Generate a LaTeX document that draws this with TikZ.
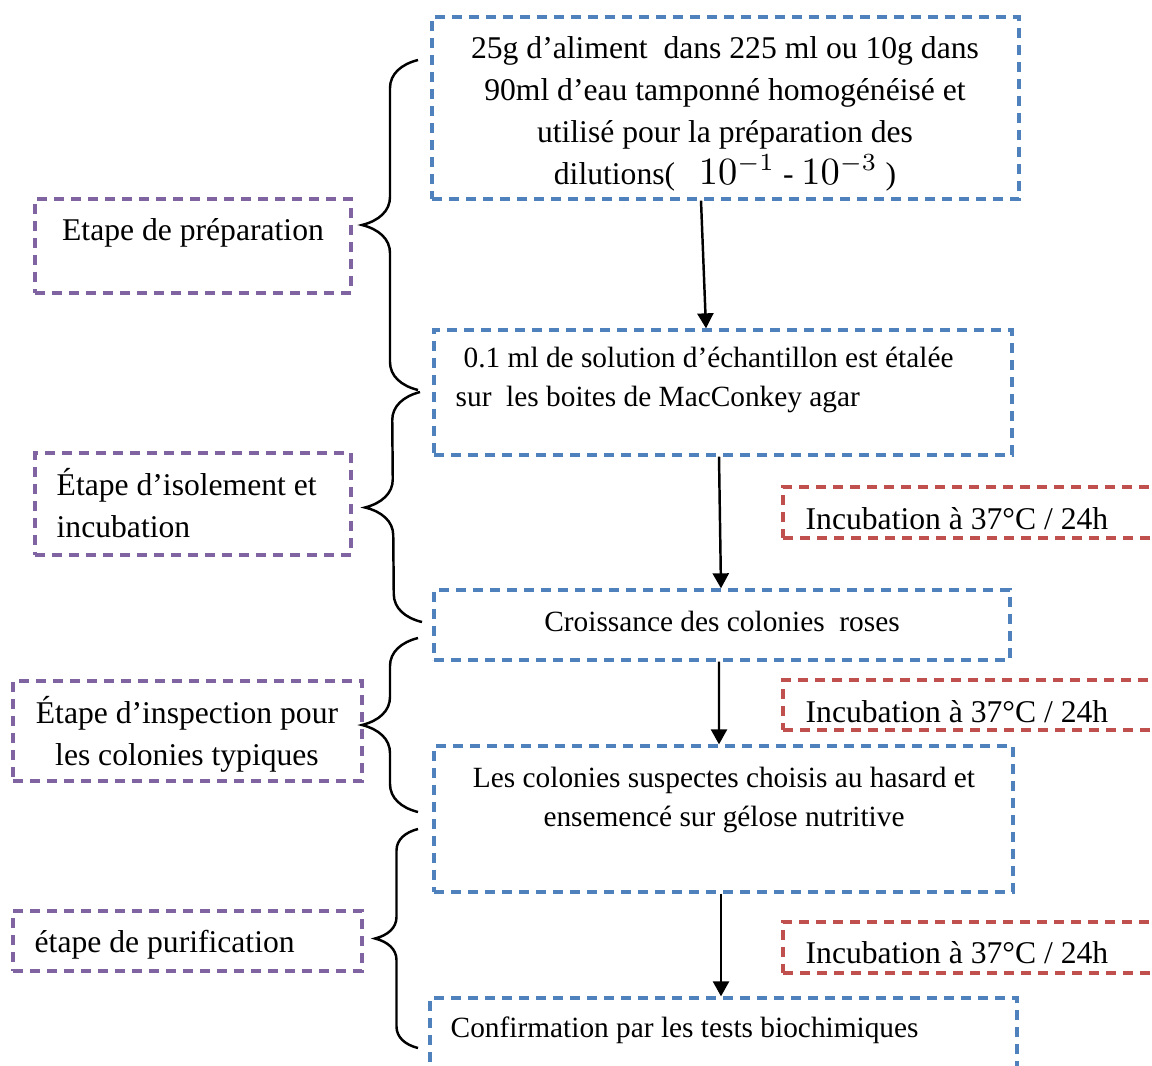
\documentclass[tikz,border=0pt]{standalone}
\usepackage{fontspec}
\setmainfont{Liberation Serif}
\usetikzlibrary{arrows.meta,decorations.pathreplacing}
\definecolor{boxblue}{RGB}{79,129,189}
\definecolor{incured}{RGB}{192,80,77}
\definecolor{phasepurple}{RGB}{128,100,162}
\tikzset{
  dashbox/.style={draw, rectangle, inner sep=0pt, line width=0.95pt, dash pattern=on 1mm off 0.7mm},
  stepbox/.style={dashbox, draw=boxblue},
  incubox/.style={dashbox, draw=incured},
  phasebox/.style={dashbox, draw=phasepurple},
  txt/.style={inner sep=0pt, font=\fontsize{9}{12}\selectfont},
  smalltxt/.style={inner sep=0pt, font=\fontsize{8.35}{11.1}\selectfont},
  flow/.style={-{Triangle[length=1.5mm,width=1.6mm]}, line width=0.7pt},
  curly/.style={decorate, decoration={brace, amplitude=0.28cm, transform={yscale=2}}, line width=0.7pt},
}
\begin{document}
\begin{tikzpicture}
\useasboundingbox (0,0) rectangle (11.52,-10.65);
% main column
\node[stepbox, minimum width=5.87cm, minimum height=1.82cm] (prep) at (7.255,-1.08) {};
\node[stepbox, minimum width=5.78cm, minimum height=1.25cm] (spread) at (7.23,-3.925) {};
\node[stepbox, minimum width=5.76cm, minimum height=0.70cm] (growth) at (7.22,-6.25) {};
\node[stepbox, minimum width=5.79cm, minimum height=1.46cm] (pick) at (7.235,-8.19) {};
\node[stepbox, minimum width=5.87cm, minimum height=1.32cm] (confirm) at (7.235,-10.64) {};
\node[txt, align=center] (prep-txt) at (7.25,-1.14) {25g d’aliment\ \ dans 225 ml ou 10g dans\\90ml d’eau tamponné homogénéisé et\\utilisé pour la préparation des\\dilutions(\ \ \ {\fontsize{10.5}{12}\selectfont$10^{-1}$} - {\fontsize{10.5}{12}\selectfont$10^{-3}$} )};
\node[smalltxt, align=left, anchor=west] (spread-txt) at (4.55,-3.80) {\hspace*{0.8mm}0.1 ml de solution d’échantillon est étalée\\sur\ \ les boites de MacConkey agar};
\node[smalltxt] (growth-txt) at (7.22,-6.21) {Croissance des colonies\ \ roses};
\node[smalltxt, align=center] (pick-txt) at (7.24,-8.00) {Les colonies suspectes choisis au hasard et\\ensemencé sur gélose nutritive};
\node[smalltxt, anchor=west] (confirm-txt) at (4.50,-10.30) {Confirmation par les tests biochimiques};
% incubation
\node[incubox, minimum width=3.87cm, minimum height=0.51cm] (inc1) at (9.765,-5.125) {};
\node[incubox, minimum width=3.87cm, minimum height=0.50cm] (inc2) at (9.765,-7.05) {};
\node[incubox, minimum width=3.87cm, minimum height=0.51cm] (inc3) at (9.765,-9.475) {};
\node[txt, anchor=west] (inc1-txt) at (8.05,-5.19) {Incubation à 37°C / 24h};
\node[txt, anchor=west] (inc2-txt) at (8.05,-7.12) {Incubation à 37°C / 24h};
\node[txt, anchor=west] (inc3-txt) at (8.05,-9.53) {Incubation à 37°C / 24h};
% stages
\node[phasebox, minimum width=3.16cm, minimum height=0.94cm] (prepstage) at (1.93,-2.46) {};
\node[phasebox, minimum width=3.16cm, minimum height=1.02cm] (isostage) at (1.93,-5.04) {};
\node[phasebox, minimum width=3.49cm, minimum height=1.00cm] (inspstage) at (1.875,-7.31) {};
\node[phasebox, minimum width=3.49cm, minimum height=0.60cm] (purstage) at (1.875,-9.41) {};
\node[txt] (prepstage-txt) at (1.93,-2.33) {Etape de préparation};
\node[txt, align=left, anchor=west] (isostage-txt) at (0.56,-5.03) {Étape d’isolement et\\incubation};
\node[txt, align=center] (inspstage-txt) at (1.87,-7.34) {Étape d’inspection pour\\les colonies typiques};
\node[txt, anchor=west] (purstage-txt) at (0.34,-9.45) {étape de purification};
% braces
\coordinate (b1t) at (4.18,-0.60);
\coordinate (b1b) at (4.18,-3.90);
\coordinate (b2t) at (4.20,-3.92);
\coordinate (b2b) at (4.22,-6.22);
\coordinate (b3t) at (4.18,-6.38);
\coordinate (b3b) at (4.18,-8.12);
\coordinate (b4t) at (4.18,-8.29);
\coordinate (b4b) at (4.18,-10.48);
\draw[curly] (b1b) -- (b1t);
\draw[curly] (b2b) -- (b2t);
\draw[curly] (b3b) -- (b3t);
\draw[curly, decoration={amplitude=0.215cm}] (b4b) -- (b4t);
% arrows
\draw[flow] ([xshift=-2.45mm]prep.south) -- ([xshift=-1.7mm]spread.north);
\draw[flow] ([xshift=-0.4mm]spread.south) -- ([xshift=-0.1mm]growth.north);
\draw[flow] ([xshift=-0.3mm]growth.south) -- ([xshift=-0.45mm]pick.north);
\draw[flow] ([xshift=-0.25mm]pick.south) -- ([xshift=-0.25mm]confirm.north);
\end{tikzpicture}
\end{document}
